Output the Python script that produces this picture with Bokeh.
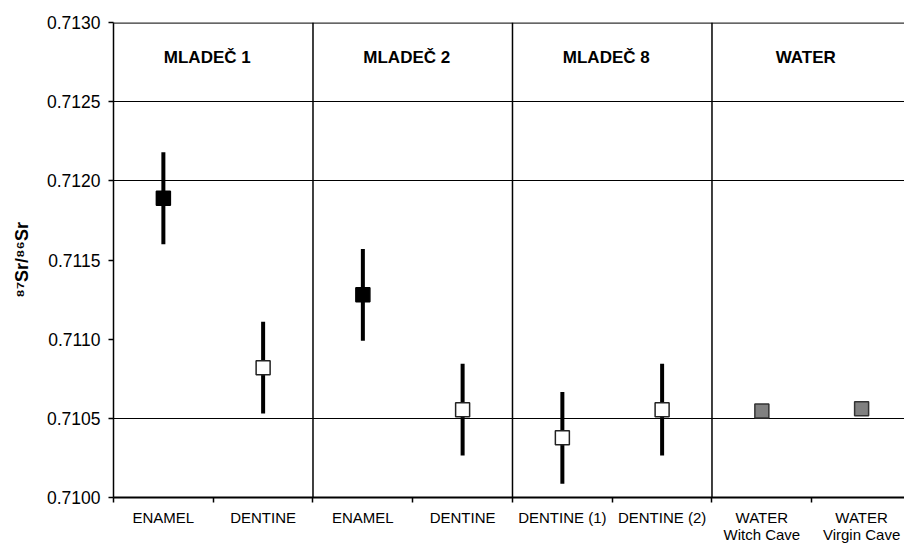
from bokeh.plotting import figure
from bokeh.models import FixedTicker, Span, Range1d, LinearAxis
from bokeh.core.properties import value
from bokeh.embed import file_html
from bokeh.resources import INLINE

# ---- data ----
categories = ["ENAMEL", "DENTINE", "ENAMEL", "DENTINE", "DENTINE (1)", "DENTINE (2)",
              "WATER", "WATER"]
sublabels = ["", "", "", "", "", "", "Witch Cave", "Virgin Cave"]
tissue = ["enamel", "dentine", "enamel", "dentine", "dentine", "dentine", "water", "water"]
sr_ratio = [0.71189, 0.71082, 0.71128, 0.710555, 0.710377, 0.710555, 0.710546, 0.710560]
sr_error = [0.00029, 0.00029, 0.00029, 0.00029, 0.00029, 0.00029, None, None]
groups = ["MLADEČ 1", "MLADEČ 2", "MLADEČ 8", "WATER"]
y_ticks = [0.7100, 0.7105, 0.7110, 0.7115, 0.7120, 0.7125, 0.7130]
grid_levels = [0.7105, 0.7120, 0.7125]

FONT = "Liberation Sans"
styles = {"enamel": ("black", "black"), "dentine": ("white", "#222222"), "water": ("#808080", "#333333")}

n = len(categories)
xs = [i + 0.5 for i in range(n)]

p = figure(width=904, height=545, output_backend="svg", toolbar_location=None,
           x_range=Range1d(0, 7.93), y_range=Range1d(0.7100, 0.7130),
           min_border_left=113, min_border_right=0, min_border_top=22, min_border_bottom=47,
           outline_line_color=None)

# grid
p.xgrid.grid_line_color = None
p.ygrid.ticker = FixedTicker(ticks=grid_levels)
p.ygrid.grid_line_color = "black"
p.ygrid.grid_line_width = 1
p.ygrid.grid_line_alpha = 1

# top line
p.add_layout(Span(location=y_ticks[-1], dimension="width", line_color="#333333", line_width=2.5))

# group separators
for b in range(2, n, 2):
    p.add_layout(Span(location=b, dimension="height", line_color="black", line_width=1.5))

# x axis
xa = p.xaxis[0]
xa.ticker = FixedTicker(ticks=xs, minor_ticks=list(range(n + 1)))
xa.major_label_overrides = {x: c for x, c in zip(xs, categories)}
xa.major_tick_out = 0
xa.major_tick_in = 0
xa.minor_tick_out = 5
xa.minor_tick_in = 0
xa.minor_tick_line_color = "black"
xa.minor_tick_line_width = 1.5
xa.axis_line_color = "black"
xa.axis_line_width = 2
xa.major_label_text_font = FONT
xa.major_label_text_font_size = "15px"
xa.major_label_text_color = "black"
xa.major_label_standoff = 6

# second line of the x labels, as a second (bare) axis below
sub_x = [x for x, s in zip(xs, sublabels) if s]
xa2 = LinearAxis(ticker=FixedTicker(ticks=sub_x, minor_ticks=[]),
                 major_label_overrides={x: s for x, s in zip(xs, sublabels) if s},
                 axis_line_color=None, major_tick_line_color=None, minor_tick_line_color=None,
                 major_tick_out=0, major_tick_in=0, minor_tick_out=0, minor_tick_in=0,
                 major_label_standoff=-3, major_label_text_font=FONT,
                 major_label_text_font_size="15px", major_label_text_color="black")
p.add_layout(xa2, "below")

# y axis
ya = p.yaxis[0]
ya.ticker = FixedTicker(ticks=y_ticks)
ya.major_label_overrides = {t: f"{t:.4f}" for t in y_ticks}
ya.minor_tick_line_color = None
ya.major_tick_out = 5
ya.major_tick_in = 0
ya.major_tick_line_color = "black"
ya.major_tick_line_width = 1.5
ya.axis_line_color = "black"
ya.axis_line_width = 1.5
ya.major_label_text_font = FONT
ya.major_label_text_font_size = "17.5px"
ya.major_label_text_color = "black"
ya.major_label_standoff = 8
ya.axis_label = "⁸⁷Sr/⁸⁶Sr"
ya.axis_label_text_font = FONT
ya.axis_label_text_font_size = "18px"
ya.axis_label_text_font_style = "bold"
ya.axis_label_text_color = "black"
ya.axis_label_standoff = 12

# error bars
ex = [x for x, e in zip(xs, sr_error) if e is not None]
elo = [v - e for v, e in zip(sr_ratio, sr_error) if e is not None]
ehi = [v + e for v, e in zip(sr_ratio, sr_error) if e is not None]
p.segment(x0=ex, y0=elo, x1=ex, y1=ehi, line_color="black", line_width=4)

# markers
for kind, (fill, line) in styles.items():
    sx = [x for x, t in zip(xs, tissue) if t == kind]
    sy = [v for v, t in zip(sr_ratio, tissue) if t == kind]
    p.scatter(sx, sy, marker="square", size=14, fill_color=fill, line_color=line, line_width=1.5)

# group headers
gx = [2 * i + 1 - 0.06 for i in range(len(groups))]
gy = [0.712776] * len(groups)
p.text(x=gx, y=gy, text=groups, text_font=value(FONT), text_font_size="17px",
       text_font_style="bold", text_align="center", text_baseline="middle", text_color="black")

open("out.html", "w").write(file_html(p, INLINE))
